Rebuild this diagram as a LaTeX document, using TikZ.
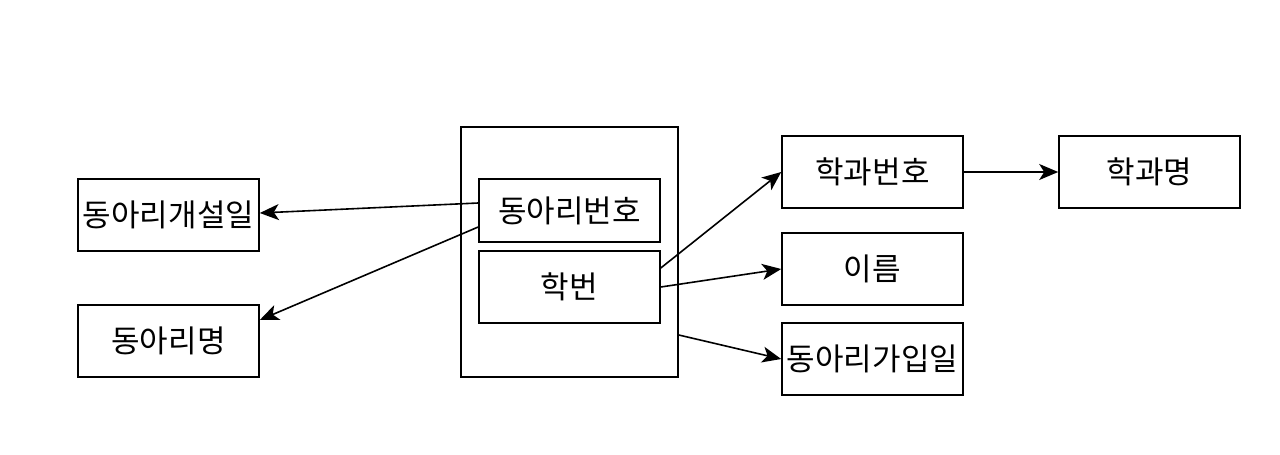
\documentclass[tikz,border=0pt]{standalone}
\usepackage{fontspec}
\setmainfont{Noto Sans CJK KR}
\usetikzlibrary{arrows.meta}
\begin{document}
\begin{tikzpicture}[x=1pt,y=-1pt,
  box/.style={draw,line width=1.6pt,minimum width=#1,inner sep=0pt,font=\fontsize{31}{36}\selectfont},
  arr/.style={line width=1.6pt,-{Stealth[length=19pt,width=16pt,inset=5pt]}}]
\useasboundingbox (0,0) rectangle (1280,455);
\node[box=217pt,minimum height=250pt] (outer) at (569.5,252) {};
\node[box=181pt,minimum height=63pt] (beonho) at (569.5,210.5) {동아리번호};
\node[box=181pt,minimum height=72pt] (hakbeon) at (569.5,287) {학번};
\node[box=181pt,minimum height=72pt] (gaesul) at (168.5,215) {동아리개설일};
\node[box=181pt,minimum height=72pt] (myeong) at (168.5,341) {동아리명};
\node[box=181pt,minimum height=72pt] (hakgwa) at (872.5,172) {학과번호};
\node[box=181pt,minimum height=72pt] (hgmyeong) at (1149.5,172) {학과명};
\node[box=181pt,minimum height=72pt] (ireum) at (872.5,269) {이름};
\node[box=181pt,minimum height=72pt] (gaip) at (872.5,359) {동아리가입일};
\coordinate (b1) at ([yshift=7.5pt]beonho.west);
\coordinate (b2) at ([yshift=-16.5pt]beonho.west);
\coordinate (g1) at ([yshift=2pt]gaesul.east);
\coordinate (m1) at ([yshift=21pt]myeong.east);
\coordinate (h1) at ([yshift=19pt]hakbeon.east);
\coordinate (h2) at (hakbeon.east);
\coordinate (o1) at ([yshift=-83pt]outer.east);
\coordinate (i1) at (ireum.west);
\coordinate (gp1) at (gaip.west);
\draw[arr] (b1) -- (g1);
\draw[arr] (b2) -- (m1);
\draw[arr] (h1) -- (hakgwa.west);
\draw[arr] (h2) -- (i1);
\draw[arr] (o1) -- (gp1);
\draw[arr] (hakgwa) -- (hgmyeong);
\end{tikzpicture}
\end{document}
